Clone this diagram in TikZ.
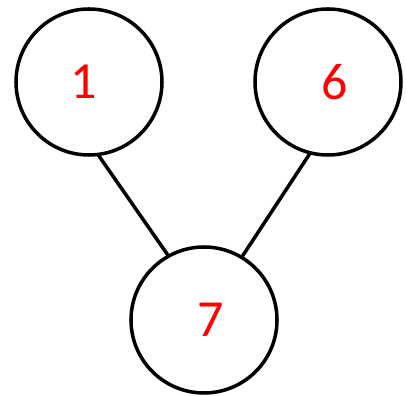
\documentclass[tikz,border=0pt]{standalone}
\usepackage{fontspec}
\setmainfont{Carlito}
\usetikzlibrary{positioning}

\begin{document}
\begin{tikzpicture}[
  font=\fontsize{37}{40}\selectfont,
  cerchio/.style={draw=black, circle, line width=2.5pt, minimum size=3.65cm,
                  inner sep=0pt, outer sep=0pt, text=red},
  collegamento/.style={draw=black, line width=2.5pt}
]
\useasboundingbox (0,0) rectangle (10.15,9.9);

\node[cerchio] (uno)   at (2.225,7.85) {\raisebox{-5pt}{1}\hspace*{7pt}};
\node[cerchio] (sei)   at (8.2,7.85)   {\hspace*{9pt}\raisebox{-5pt}{6}};
\node[cerchio] (sette) at (5.1,1.9)    {\hspace*{9pt}7};

% archi
\draw[collegamento] (uno.-83) -- (sette.119);
\draw[collegamento] (sei.-104) -- (sette.59);

\end{tikzpicture}
\end{document}
